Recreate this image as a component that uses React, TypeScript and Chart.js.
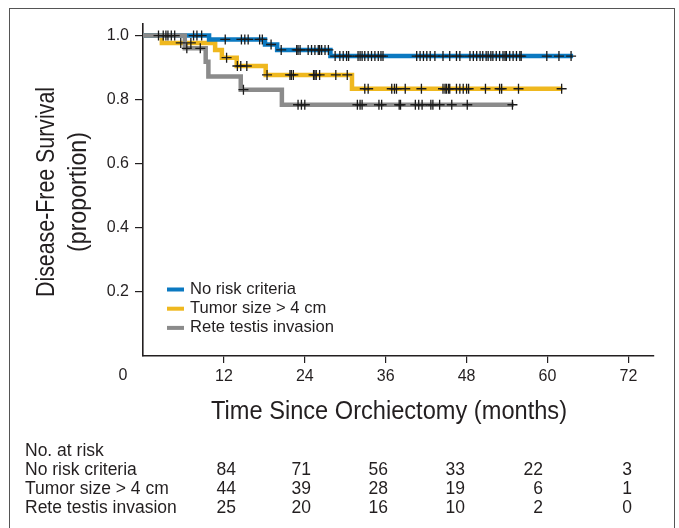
import { useEffect, useRef } from 'react';
import { Chart, registerables } from 'chart.js';

Chart.register(...registerables);

const FONT_REG = '"Liberation Sans", Arial, Helvetica, sans-serif';

// ---- data ----
const seriesNames = ['No risk criteria', 'Tumor size > 4 cm', 'Rete testis invasion'];
const seriesColors = ['#0b79c1', '#efb81f', '#8b8b8b'];

const noRiskTimes = [0, 9.8, 18.1, 19.9, 27.8, 63.8];
const noRiskSurv = [1, 0.988, 0.972, 0.955, 0.936, 0.936];
const noRiskCensor = [2.3, 3.0, 3.4, 3.7, 4.2, 4.7, 7.5, 8.0, 8.7, 12.2, 14.6, 15.1, 15.6, 17.3, 17.7, 19.0, 20.5, 22.8, 23.0, 23.3, 24.5, 25.0, 25.5, 26.0, 26.2, 26.5, 27.0, 27.5, 28.5, 29.2, 29.7, 30.2, 30.5, 31.9, 32.2, 32.5, 32.9, 33.4, 33.9, 34.4, 34.9, 35.3, 35.6, 40.6, 41.1, 41.6, 42.1, 42.6, 43.3, 44.5, 45.5, 46.5, 47.0, 48.5, 49.0, 49.5, 50.0, 50.4, 50.9, 51.2, 51.6, 51.9, 52.4, 52.9, 53.4, 53.7, 53.9, 54.4, 54.9, 55.4, 55.9, 56.1, 59.9, 61.7, 63.5];

const tumorTimes = [0, 2.8, 10.7, 11.7, 13.9, 18.2, 31.0, 62.2];
const tumorSurv = [1, 0.977, 0.955, 0.931, 0.905, 0.877, 0.834, 0.834];
const tumorCensor = [5.6, 7.1, 12.4, 14.0, 14.5, 15.4, 18.4, 21.8, 22.0, 22.3, 25.3, 25.5, 25.7, 26.2, 28.6, 30.3, 32.9, 33.4, 36.9, 37.3, 37.6, 38.9, 41.3, 44.5, 44.8, 45.0, 45.3, 45.5, 46.5, 47.0, 47.5, 48.0, 48.3, 50.8, 52.9, 53.2, 55.7, 62.1];

const reteTimes = [0, 6.2, 9.3, 9.7, 14.5, 20.6, 55.0];
const reteSurv = [1, 0.96, 0.918, 0.872, 0.831, 0.784, 0.784];
const reteCensor = [6.5, 8.5, 14.9, 23.0, 23.5, 24.0, 31.8, 32.2, 32.5, 35.0, 35.4, 38.0, 38.2, 40.4, 40.9, 41.4, 42.7, 43.0, 44.0, 45.8, 48.1, 54.8];

const xTickValues = [0, 12, 24, 36, 48, 60, 72];
const yTickValues = [0.2, 0.4, 0.6, 0.8, 1.0];

const riskTimes = [0, 12, 24, 36, 48, 60];
const noRiskAtRisk = [84, 71, 56, 33, 22, 3];
const tumorAtRisk = [44, 39, 28, 19, 6, 1];
const reteAtRisk = [25, 20, 16, 10, 2, 0];

const xTitle = 'Time Since Orchiectomy (months)';
const yTitle = ['Disease-Free Survival', '(proportion)'];
const riskHeader = 'No. at risk';

// ---- helpers ----
function survAt(times: number[], surv: number[], t: number) {
  let s = surv[0];
  for (let i = 0; i < times.length; i++) if (times[i] <= t) s = surv[i];
  return s;
}
const curves = [
  { times: noRiskTimes, surv: noRiskSurv, censor: noRiskCensor, order: 2 },
  { times: tumorTimes, surv: tumorSurv, censor: tumorCensor, order: 3 },
  { times: reteTimes, surv: reteSurv, censor: reteCensor, order: 1 },
];
const atRiskRows = [noRiskAtRisk, tumorAtRisk, reteAtRisk];

// layout positions for the at-risk table columns (right edges, px)
const tableColRight = [236, 311, 388, 465, 543, 632];

// draw text horizontally condensed to a target width
function condensedText(ctx: CanvasRenderingContext2D, text: string, x: number, y: number, targetW: number) {
  const w = ctx.measureText(text).width;
  const s = Math.min(1, targetW / w);
  ctx.save();
  ctx.translate(x, y);
  ctx.scale(s, 1);
  ctx.fillText(text, 0, 0);
  ctx.restore();
}

const overlayPlugin = {
  id: 'overlay',
  afterDraw(chart: any) {
    const ctx = chart.ctx as CanvasRenderingContext2D;
    const xs = chart.scales.x;
    const ys = chart.scales.y;
    ctx.save();
    ctx.fillStyle = '#231f20';
    // "0" label at the axes corner
    ctx.font = `16px ${FONT_REG}`;
    ctx.textAlign = 'center';
    ctx.textBaseline = 'middle';
    ctx.fillText(String(xTickValues[0]), xs.getPixelForValue(0) - 20, 376);
    // x title
    ctx.font = `25px ${FONT_REG}`;
    ctx.textAlign = 'center';
    ctx.textBaseline = 'middle';
    condensedText(ctx, xTitle, 389, 412, 356);
    // y title (rotated)
    const yc = (ys.top + ys.bottom) / 2 + 2;
    ctx.save();
    ctx.translate(0, yc);
    ctx.rotate(-Math.PI / 2);
    ctx.font = `26px ${FONT_REG}`;
    ctx.textAlign = 'center';
    ctx.textBaseline = 'alphabetic';
    condensedText(ctx, yTitle[0], 0, 54, 210);
    condensedText(ctx, yTitle[1], 0, 86, 120);
    ctx.restore();
    // legend
    ctx.font = `16.6px ${FONT_REG}`;
    ctx.textAlign = 'left';
    ctx.textBaseline = 'middle';
    seriesNames.forEach((name, i) => {
      const y = 289.5 + i * 19.2;
      ctx.fillStyle = seriesColors[i];
      ctx.fillRect(167, y - 2, 17, 4);
      ctx.fillStyle = '#231f20';
      ctx.fillText(name, 190, y);
    });
    // at-risk table
    ctx.font = `17.5px ${FONT_REG}`;
    ctx.textAlign = 'left';
    ctx.fillText(riskHeader, 25, 451);
    seriesNames.forEach((name, r) => {
      const y = 470 + r * 19;
      ctx.textAlign = 'left';
      ctx.fillText(name, 25, y);
      ctx.textAlign = 'right';
      riskTimes.forEach((_, c) => {
        ctx.fillText(String(atRiskRows[r][c]), tableColRight[c], y);
      });
    });
    ctx.restore();
  },
};

export default function App() {
  const ref = useRef<HTMLCanvasElement | null>(null);
  useEffect(() => {
    if (!ref.current) return;
    const datasets: any[] = [];
    curves.forEach((c, i) => {
      datasets.push({
        label: seriesNames[i],
        data: c.times.map((t, k) => ({ x: t, y: c.surv[k] })),
        showLine: true,
        stepped: 'before',
        borderColor: seriesColors[i],
        backgroundColor: seriesColors[i],
        borderWidth: 4.5,
        borderCapStyle: 'butt',
        borderJoinStyle: 'miter',
        pointRadius: 0,
        fill: false,
        order: c.order,
      });
    });
    curves.forEach((c, i) => {
      datasets.push({
        label: seriesNames[i] + ' censored',
        data: c.censor.map((t) => ({ x: t, y: survAt(c.times, c.surv, t) })),
        showLine: false,
        pointStyle: 'cross',
        pointRadius: 5,
        pointBorderWidth: 1.3,
        borderColor: '#1a1a1a',
        backgroundColor: '#1a1a1a',
        order: 0,
      });
    });
    const axisColor = '#231f20';
    const chart = new Chart(ref.current, {
      type: 'scatter',
      data: { datasets },
      plugins: [overlayPlugin],
      options: {
        animation: false,
        responsive: false,
        devicePixelRatio: 1,
        layout: { padding: { left: 0, top: 24, right: 25, bottom: 0 } },
        plugins: { legend: { display: false }, tooltip: { enabled: false } },
        scales: {
          x: {
            type: 'linear',
            min: 0,
            max: 75.8,
            afterFit: (s: any) => { s.height = 172; },
            afterBuildTicks: (s: any) => { s.ticks = xTickValues.map((v) => ({ value: v })); },
            ticks: {
              stepSize: 12,
              includeBounds: false,
              autoSkip: false,
              maxRotation: 0,
              padding: 4,
              color: axisColor,
              font: { family: FONT_REG, size: 16 },
              callback: (v: any) => (v === 0 ? '' : String(v)),
            },
            grid: {
              drawOnChartArea: false,
              drawTicks: true,
              tickLength: 7,
              lineWidth: 1.2,
              color: (c: any) => (c.tick && c.tick.value === 0 ? 'rgba(0,0,0,0)' : axisColor),
            },
            border: { display: true, color: axisColor, width: 1.6 },
          },
          y: {
            type: 'linear',
            min: 0,
            max: 1.036,
            afterFit: (s: any) => { s.width = 143; },
            afterBuildTicks: (s: any) => { s.ticks = yTickValues.map((v) => ({ value: v })); },
            ticks: {
              includeBounds: false,
              autoSkip: false,
              padding: 6,
              color: axisColor,
              font: { family: FONT_REG, size: 16 },
              callback: (v: any) => Number(v).toFixed(1),
            },
            grid: {
              drawOnChartArea: false,
              drawTicks: true,
              tickLength: 8,
              lineWidth: 1.2,
              color: axisColor,
            },
            border: { display: true, color: axisColor, width: 1.6 },
          },
        },
      },
    });
    return () => chart.destroy();
  }, []);
  return (
    <div style={{ position: 'fixed', left: 0, top: 0, width: 679, height: 528, background: '#fff', overflow: 'hidden' }}>
      <div style={{ position: 'absolute', left: 9, top: 8, width: 666, height: 600, border: '1px solid #555', boxSizing: 'border-box' }} />
      <canvas ref={ref} width={679} height={528} style={{ position: 'absolute', left: 0, top: 0 }} />
    </div>
  );
}
